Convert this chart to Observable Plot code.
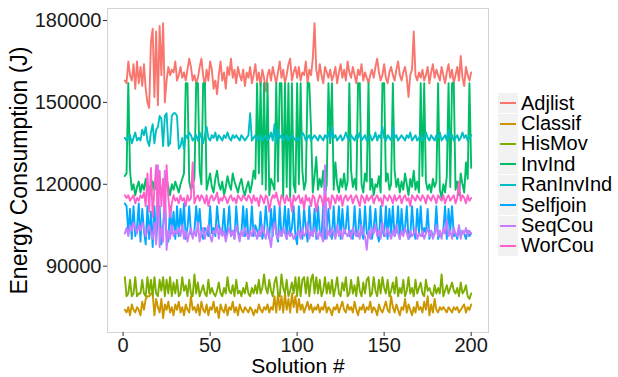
<!DOCTYPE html>
<html><head><meta charset="utf-8">
<script src="https://cdn.jsdelivr.net/npm/d3@7"></script>
<script src="https://cdn.jsdelivr.net/npm/@observablehq/plot@0.6"></script>
<style>
body{margin:0;background:#fff;font-family:"Liberation Sans",Arial,sans-serif}
#wrap{position:relative;width:618px;height:377px}
#legend{position:absolute;left:498px;top:93px;font-size:20px;color:#000}
.row{display:flex;align-items:center;height:20.4px}
.key{width:20px;height:20px;background:#f2f2f2;display:flex;align-items:center;margin-right:3px}
</style></head><body><div id="wrap"></div>
<script>
const series = ["Adjlist","Classif","HisMov","InvInd","RanInvInd","Selfjoin","SeqCou","WorCou"];
const colors = ["#F8766D","#CD9600","#7CAE00","#00BE67","#00BFC4","#00A9FF","#C77CFF","#FF61CC"];
const xTicks = [0,50,100,150,200];
const yTicks = [90000,120000,150000,180000];

const adjlist = [
158000,157000,165000,160000,158000,164000,155000,165000,157000,163000,
156000,164000,155000,150000,148000,172000,177000,152000,176000,149000,
178000,160000,179000,150000,158000,163000,160000,162000,161000,165000,
158000,160000,163000,159000,161000,158000,162000,166000,163000,158000,
160000,157000,159000,163000,166000,160000,156000,162000,158000,165000,
162000,155000,158000,153000,160000,165000,158000,161000,155000,163000,
160000,166000,159000,162000,157000,163000,160000,158000,162000,156000,
161000,159000,163000,157000,160000,164000,158000,161000,156000,162000,
159000,154000,160000,162000,158000,163000,160000,157000,161000,165000,
159000,162000,157000,160000,164000,166000,158000,161000,163000,159000,
163000,158000,161000,160000,165000,157000,162000,160000,166000,179000,
162000,158000,164000,160000,157000,163000,161000,159000,162000,158000,
160000,163000,157000,161000,164000,159000,162000,158000,165000,161000,
159000,163000,160000,157000,162000,160000,164000,158000,161000,159000,
157000,160000,162000,159000,163000,166000,161000,158000,160000,164000,
159000,157000,161000,163000,160000,158000,162000,165000,160000,158000,
161000,163000,159000,152000,160000,162000,176000,160000,158000,161000,
159000,162000,158000,160000,163000,157000,161000,164000,159000,162000,
160000,158000,163000,160000,157000,161000,164000,159000,162000,157000,
160000,163000,158000,167000,159000,156000,163000,160000,158000,161000];

const classif = [
74000,73000,75000,72000,76000,74000,73000,75000,74000,72000,
77000,74000,78000,79000,79000,80000,80000,72000,78000,75000,
73000,78000,71000,76000,74000,77000,73000,75000,72000,76000,
74000,77000,73000,75000,72000,76000,74000,73000,79000,74000,
75000,73000,76000,72000,77000,74000,73000,76000,72000,75000,
74000,77000,73000,75000,71000,76000,74000,73000,76000,72000,
75000,74000,77000,73000,75000,72000,76000,74000,73000,75000,
74000,73000,75000,74000,72000,74000,73000,76000,74000,73000,
75000,74000,76000,73000,75000,74000,79000,73000,80000,74000,
79000,73000,80000,74000,78000,73000,80000,75000,79000,73000,
78000,74000,76000,73000,75000,77000,74000,76000,73000,75000,
74000,76000,73000,75000,74000,77000,73000,75000,74000,72000,
75000,74000,76000,73000,75000,77000,74000,73000,76000,74000,
75000,73000,77000,74000,72000,75000,74000,76000,73000,75000,
74000,77000,73000,75000,74000,72000,76000,74000,73000,75000,
77000,74000,73000,79000,75000,73000,76000,74000,72000,75000,
74000,78000,73000,76000,74000,72000,75000,73000,77000,74000,
75000,73000,77000,74000,79000,72000,76000,73000,78000,74000,
73000,75000,74000,75000,74000,73000,75000,74000,73000,75000,
74000,75000,73000,74000,75000,76000,73000,75000,74000,76000];

const hisMov = [
86000,79000,80000,85000,79000,80000,86000,79000,80000,80000,
85000,80000,79000,86000,80000,85000,79000,86000,80000,79000,
85000,81000,86000,79000,85000,80000,86000,79000,84000,80000,
85000,79000,80000,86000,81000,83000,79000,85000,80000,79000,
87000,80000,84000,79000,81000,83000,80000,79000,85000,80000,
82000,80000,79000,81000,84000,80000,79000,82000,80000,86000,
81000,80000,83000,79000,85000,80000,81000,79000,82000,80000,
84000,80000,79000,82000,80000,83000,80000,85000,80000,82000,
87000,82000,80000,85000,81000,79000,84000,86000,80000,79000,
87000,82000,80000,85000,79000,81000,84000,80000,86000,79000,
86000,79000,85000,86000,80000,86000,79000,85000,87000,80000,
86000,80000,85000,79000,81000,86000,80000,84000,80000,85000,
79000,82000,86000,80000,79000,84000,81000,86000,79000,80000,
85000,80000,83000,79000,86000,81000,79000,84000,80000,85000,
86000,79000,80000,86000,81000,79000,85000,80000,86000,82000,
80000,85000,79000,81000,84000,80000,86000,79000,82000,80000,
85000,79000,81000,86000,80000,82000,79000,85000,80000,82000,
84000,80000,79000,85000,81000,82000,80000,79000,83000,80000,
82000,80000,87000,79000,81000,83000,80000,82000,84000,81000,
80000,82000,79000,84000,80000,81000,83000,79000,78000,80000];

const invInd = [
123000,124000,157000,125000,118000,120000,116000,119000,121000,117000,
120000,118000,122000,117000,119000,116000,121000,118000,120000,115000,
119000,117000,120000,118000,122000,119000,116000,120000,118000,121000,
119000,117000,120000,122000,124000,157000,157000,121000,118000,120000,
122000,157000,157000,125000,120000,157000,157000,118000,121000,124000,
119000,117000,122000,125000,120000,118000,121000,116000,119000,123000,
120000,118000,124000,121000,119000,117000,120000,122000,118000,116000,
119000,121000,117000,120000,125000,122000,157000,124000,157000,120000,
157000,118000,157000,116000,122000,120000,118000,157000,121000,157000,
157000,115000,157000,119000,157000,114000,157000,120000,117000,157000,
120000,157000,125000,118000,121000,157000,157000,140000,117000,123000,
130000,118000,122000,119000,125000,116000,120000,157000,135000,157000,
118000,128000,120000,117000,122000,119000,124000,118000,121000,157000,
125000,119000,122000,118000,157000,157000,120000,117000,124000,121000,
157000,118000,122000,116000,120000,119000,123000,117000,157000,157000,
121000,124000,118000,120000,157000,125000,119000,122000,117000,121000,
118000,124000,120000,116000,122000,119000,125000,118000,121000,117000,
157000,123000,157000,121000,118000,120000,117000,122000,119000,121000,
157000,118000,115000,120000,117000,123000,157000,119000,157000,157000,
118000,121000,116000,124000,120000,117000,128000,122000,157000,126000];

const ranInvInd = [
137000,136000,137000,138000,135000,137000,139000,136000,137000,136000,
140000,138000,141000,136000,134000,139000,142000,135000,140000,141000,
145000,144000,134000,145000,146000,134000,135000,145000,146000,146000,
145000,133000,134000,137000,133000,138000,137000,139000,138000,136000,
137000,138000,136000,139000,137000,135000,138000,141000,137000,136000,
138000,137000,139000,136000,138000,137000,136000,138000,137000,139000,
137000,136000,138000,137000,138000,137000,136000,138000,137000,136000,
137000,138000,146000,136000,137000,138000,136000,137000,138000,136000,
137000,138000,136000,137000,139000,136000,142000,135000,140000,137000,
138000,136000,137000,138000,136000,137000,138000,137000,136000,137000,
136000,137000,139000,138000,136000,137000,138000,136000,137000,138000,
137000,136000,138000,137000,136000,138000,137000,139000,136000,141000,
137000,138000,136000,137000,138000,136000,137000,139000,137000,136000,
138000,137000,136000,138000,137000,139000,136000,137000,138000,136000,
137000,138000,136000,137000,139000,136000,138000,137000,141000,137000,
136000,138000,137000,136000,141000,137000,138000,136000,137000,138000,
137000,136000,138000,137000,139000,136000,137000,138000,136000,137000,
138000,136000,137000,139000,137000,136000,138000,137000,136000,138000,
137000,139000,136000,137000,138000,136000,140000,137000,138000,136000,
137000,138000,136000,137000,139000,137000,138000,136000,137000,138000];

const selfjoin = [
113000,112000,102000,111000,100000,112000,101000,104000,113000,99000,
111000,103000,98000,112000,100000,110000,97000,112000,99000,108000,
112000,98000,105000,111000,101000,99000,112000,102000,110000,100000,
112000,101000,111000,103000,113000,100000,104000,112000,102000,101000,
103000,112000,104000,111000,102000,100000,104000,103000,101000,112000,
102000,104000,101000,112000,105000,102000,103000,111000,100000,104000,
112000,101000,103000,100000,112000,103000,101000,102000,112000,101000,
111000,100000,102000,112000,101000,105000,103000,101000,110000,100000,
103000,112000,104000,100000,111000,101000,112000,102000,99000,112000,
101000,103000,112000,100000,111000,102000,104000,112000,101000,98000,
112000,103000,100000,111000,104000,99000,112000,102000,101000,111000,
100000,112000,103000,101000,112000,100000,104000,111000,102000,100000,
112000,101000,103000,112000,100000,111000,102000,104000,112000,101000,
103000,100000,112000,102000,101000,111000,103000,100000,112000,102000,
101000,112000,100000,104000,111000,102000,99000,112000,103000,101000,
112000,100000,111000,102000,112000,101000,103000,112000,100000,111000,
102000,104000,112000,100000,101000,112000,103000,100000,111000,102000,
112000,101000,104000,102000,111000,100000,103000,101000,102000,112000,
100000,102000,101000,103000,112000,100000,111000,103000,112000,101000,
102000,100000,104000,101000,103000,102000,100000,103000,101000,102000];

const seqCou = [
102000,104000,101000,105000,103000,106000,104000,102000,105000,103000,
106000,104000,101000,103000,105000,102000,100000,106000,98000,127000,
97000,104000,99000,125000,96000,103000,100000,105000,101000,103000,
102000,104000,101000,105000,100000,103000,99000,102000,104000,100000,
103000,101000,106000,99000,102000,104000,100000,103000,105000,101000,
99000,103000,102000,105000,100000,104000,101000,103000,99000,102000,
104000,101000,103000,100000,105000,102000,99000,103000,101000,104000,
102000,100000,103000,101000,104000,102000,100000,103000,101000,105000,
102000,100000,104000,101000,97000,103000,106000,102000,100000,103000,
101000,104000,102000,100000,103000,101000,102000,100000,101000,102000,
103000,100000,104000,101000,102000,106000,100000,103000,101000,104000,
102000,100000,103000,101000,99000,127000,100000,103000,101000,104000,
102000,100000,105000,101000,103000,100000,104000,102000,101000,103000,
100000,104000,102000,101000,103000,100000,105000,102000,101000,96000,
103000,100000,104000,102000,105000,101000,103000,100000,106000,102000,
101000,104000,102000,100000,103000,101000,105000,102000,100000,103000,
101000,104000,102000,100000,103000,101000,102000,104000,100000,102000,
101000,103000,100000,102000,104000,101000,103000,100000,102000,105000,
101000,103000,100000,104000,102000,107000,101000,103000,100000,104000,
102000,101000,105000,100000,103000,102000,104000,101000,103000,102000];

const worCou = [
116000,115000,116000,114000,115000,116000,113000,115000,114000,116000,
115000,117000,112000,124000,110000,126000,108000,118000,127000,109000,
125000,112000,122000,110000,127000,115000,108000,113000,116000,114000,
115000,113000,116000,114000,115000,112000,116000,114000,115000,128000,
113000,115000,116000,114000,116000,115000,113000,116000,112000,115000,
116000,114000,115000,117000,113000,115000,114000,116000,115000,113000,
115000,116000,114000,115000,113000,116000,115000,114000,116000,115000,
114000,116000,115000,113000,116000,114000,115000,112000,116000,115000,
113000,116000,115000,110000,114000,116000,115000,117000,114000,112000,
116000,115000,113000,116000,114000,115000,110000,116000,114000,115000,
116000,113000,115000,111000,116000,114000,115000,112000,116000,115000,
110000,114000,116000,115000,112000,116000,114000,115000,111000,116000,
115000,113000,116000,114000,116000,112000,115000,116000,114000,115000,
116000,113000,115000,116000,114000,112000,116000,115000,113000,116000,
114000,115000,116000,113000,115000,116000,114000,115000,112000,116000,
115000,114000,116000,115000,113000,116000,114000,115000,116000,113000,
115000,116000,114000,115000,112000,116000,115000,114000,116000,115000,
114000,116000,115000,113000,116000,115000,114000,116000,115000,113000,
116000,115000,114000,116000,113000,115000,116000,114000,115000,116000,
113000,115000,121000,114000,116000,115000,113000,116000,114000,115000];

const seriesValues = [adjlist, classif, hisMov, invInd, ranInvInd, selfjoin, seqCou, worCou];
const data = [];
series.forEach((s, i) => seriesValues[i].forEach((v, j) => data.push({solution: j + 1, energy: v, series: s})));

const chart = Plot.plot({
  width: 618, height: 377,
  marginLeft: 107, marginRight: 130, marginTop: 8, marginBottom: 45,
  style: {fontFamily: '"Liberation Sans", Arial, sans-serif', fontSize: "20px", color: "#000", background: "transparent", overflow: "visible"},
  x: {domain: [-8.95, 209.95]},
  y: {domain: [65700, 184400]},
  color: {domain: series, range: colors},
  marks: [
    Plot.frame({stroke: "#d4d4d4"}),
    Plot.lineY(data, {x: "solution", y: "energy", stroke: "series", z: "series", strokeWidth: 1.9}),
    Plot.axisX({ticks: xTicks, tickSize: 4, tickPadding: 1, stroke: "#333", fill: "#1a1a1a", fontSize: 20, label: null}),
    Plot.axisY({ticks: yTicks, tickSize: 4, tickPadding: 2, stroke: "#333", fill: "#1a1a1a", fontSize: 20, label: null, tickFormat: d => String(d)}),
    Plot.text(["Solution #"], {frameAnchor: "bottom", lineAnchor: "middle", dy: 34, fontSize: 21, fill: "#000"}),
    Plot.text(["Energy Consumption (J)"], {frameAnchor: "left", textAnchor: "middle", lineAnchor: "middle", rotate: -90, dx: -88, fontSize: 23, fill: "#000"})
  ]
});
const wrap = document.getElementById("wrap");
wrap.appendChild(chart);

const legend = document.createElement("div");
legend.id = "legend";
series.forEach((s, i) => {
  const row = document.createElement("div");
  row.className = "row";
  row.innerHTML = `<div class="key"><svg width="20" height="20"><line x1="2" x2="18" y1="10" y2="10" stroke="${colors[i]}" stroke-width="2"/></svg></div><span>${s}</span>`;
  legend.appendChild(row);
});
wrap.appendChild(legend);
</script>
</body></html>
